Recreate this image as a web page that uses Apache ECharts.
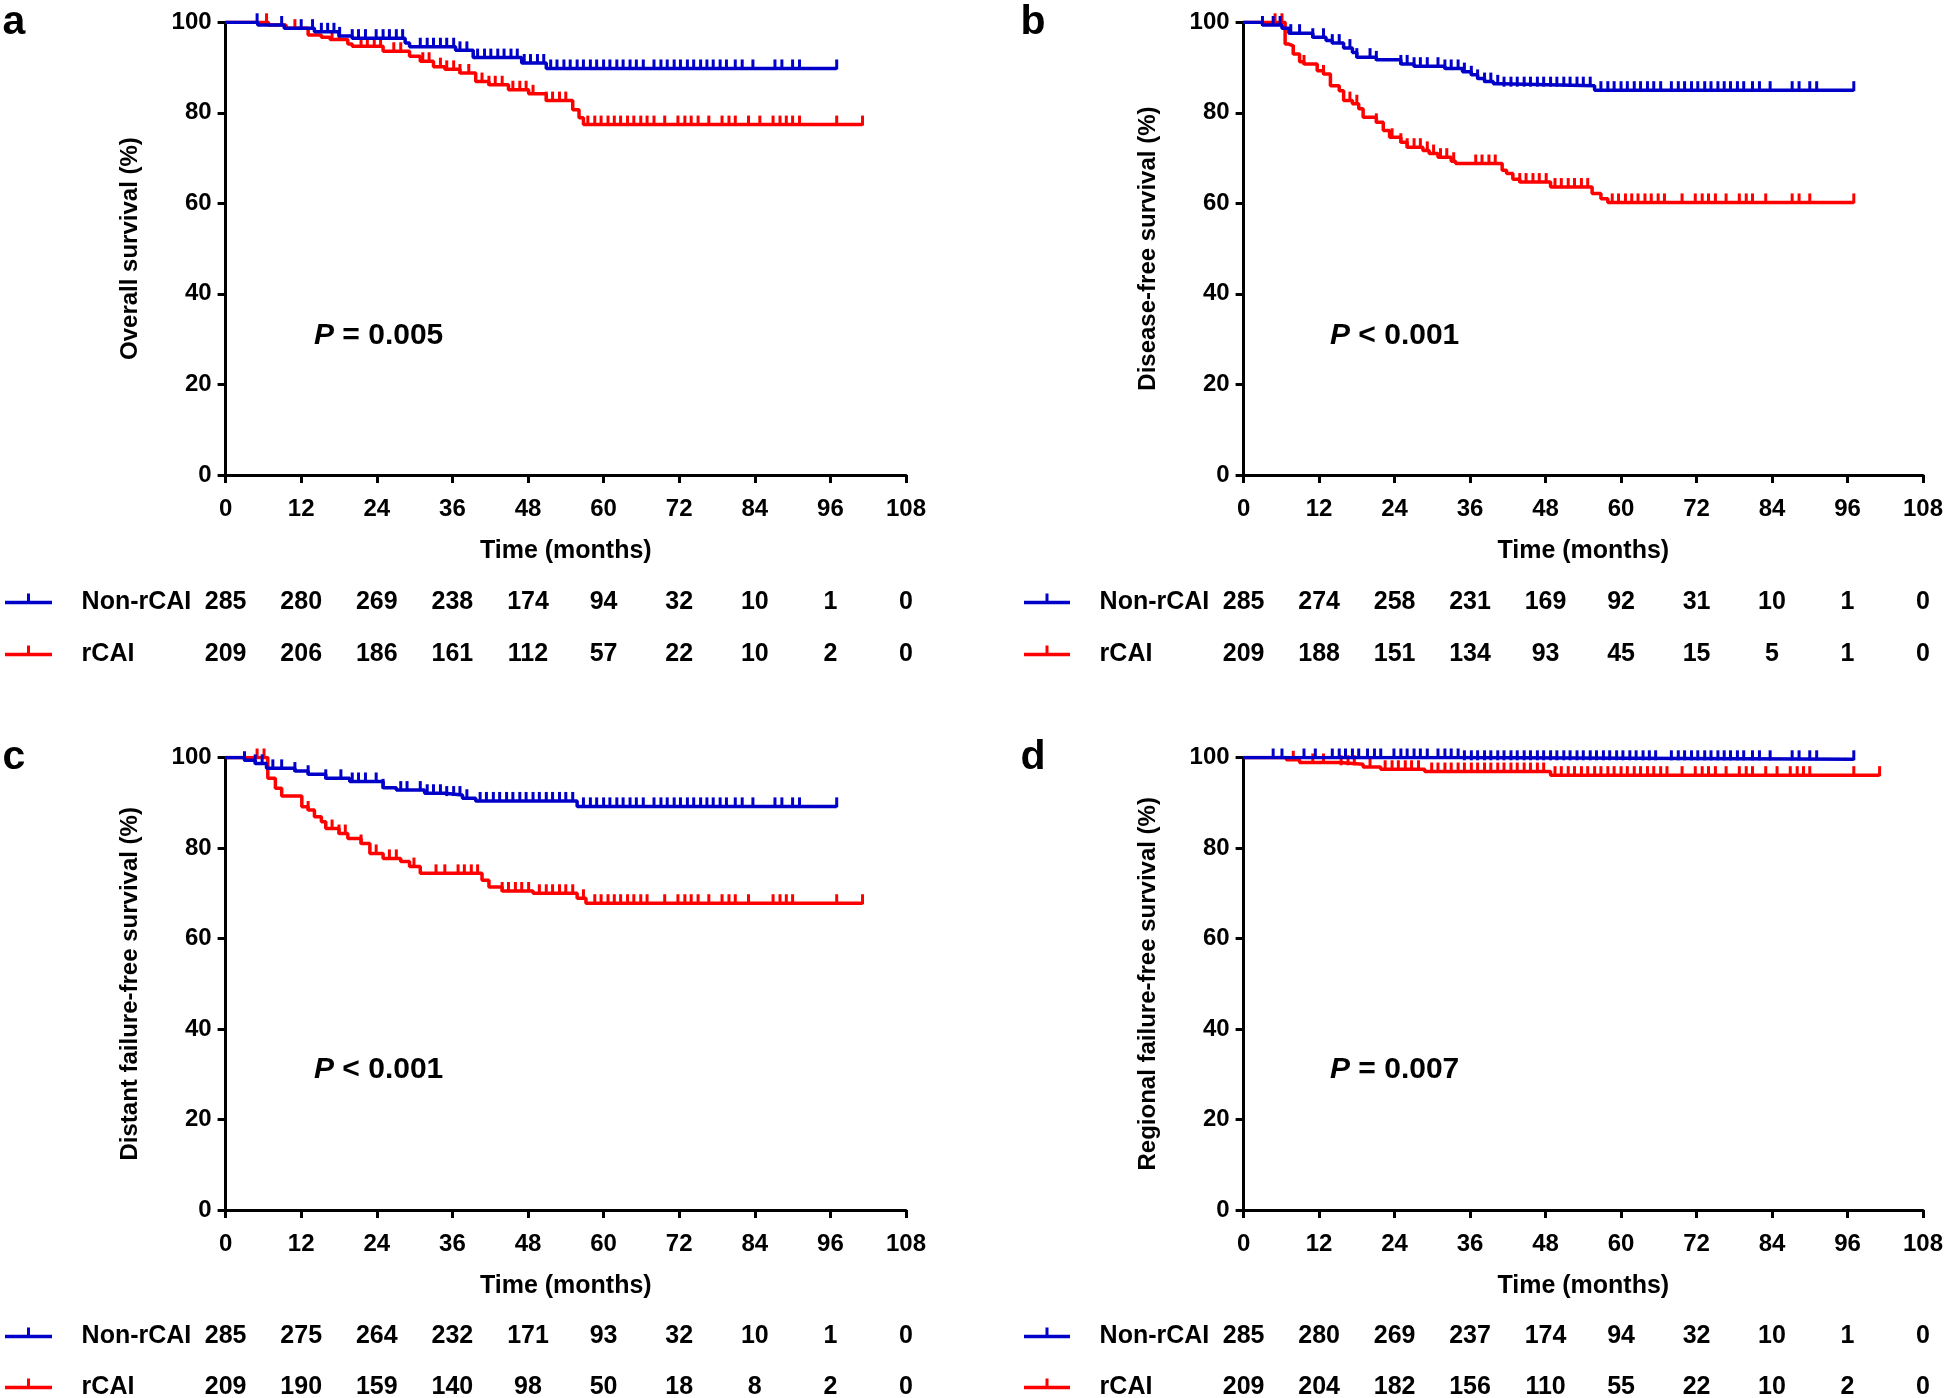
<!DOCTYPE html>
<html><head><meta charset="utf-8">
<script src="https://cdn.jsdelivr.net/npm/echarts@6/dist/echarts.min.js"></script>
<style>html,body{margin:0;padding:0;background:#fff}#c{width:1944px;height:1398px}</style>
</head><body><div id="c"></div>
<script>
// ---------------- DATA ----------------
const timeTicks = [0, 12, 24, 36, 48, 60, 72, 84, 96, 108];
const groups = ['Non-rCAI', 'rCAI'];
const panelLetters = ['a', 'b', 'c', 'd'];
const yTitles = ['Overall survival (%)', 'Disease-free survival (%)', 'Distant failure-free survival (%)', 'Regional failure-free survival (%)'];
const pLabels = ['= 0.005', '< 0.001', '< 0.001', '= 0.007'];

// Panel a: overall survival  [time, survival%]
const aBlueSteps = [[0,100],[5.1,99.4],[9.3,98.7],[14.1,97.9],[18,97],[20.1,96.5],[28.5,95.4],[29.2,94.6],[36.5,93.8],[39.3,92.2],[47,91],[50.9,89.8],[97,89.8]];
const aRedSteps = [[0,100],[6.8,99.4],[9.6,98.7],[13.1,97.2],[15.2,96.7],[16.6,96.2],[19.4,95.2],[20.1,94.7],[25,93.6],[29.2,92.5],[30.9,91.4],[33,90.2],[34.8,89.6],[37.2,88.8],[39.7,86.9],[41.8,86.2],[44.9,85.1],[48.1,84.2],[50.9,82.7],[55.1,80.7],[56.1,78.9],[56.8,77.4],[101.1,77.4]];
const aBlueCensor = [5.0,8.9,12,13.8,15.2,16.2,17.2,18.1,20.1,21.1,22.2,23.9,25,26,27.1,28.1,30.9,32,33,34.1,35.1,36.2,37.2,38.3,40,41.1,42.1,43.2,44.2,45.3,46.3,47.4,48.4,49.5,50.5,51.6,52.6,53.7,54.7,55.8,56.8,57.9,58.9,60,61,62.1,63.1,64.2,65.2,66.3,68,69.1,70.1,71.2,72.2,73.3,74.3,75.4,76.4,77.4,78.5,79.5,80.9,82,83.7,87.2,88.3,90,91.1,97];
const aRedCensor = [6.5,11,16.9,18,21.5,22.5,23.6,24.6,26.7,27.8,31.3,32.3,34.1,35.1,36.2,37.2,38.6,40.7,41.8,42.8,43.9,45.6,46.7,47.7,48.8,50.9,51.9,53,54,57.5,58.6,59.6,60.7,61.7,62.7,63.8,64.8,65.9,66.9,68,69.7,71.8,72.9,73.9,75,76.7,78.8,79.9,80.9,83,84.8,86.9,88,89,90,91.1,97,101.1];

// Panel b: disease-free survival
const bBlueSteps = [[0,100],[3,99.4],[6.1,98.7],[7.2,97.6],[11,96.7],[13.1,96],[14.1,95.4],[15.9,94.3],[17.3,93.3],[18,92.3],[21.1,91.7],[25,90.8],[27.1,90.3],[32,89.8],[34.8,89.1],[36.2,88.4],[37.2,87.6],[38.3,86.9],[39.7,86.4],[41.1,86],[55.8,85],[97,85]];
const bRedSteps = [[0,100],[6.6,95.2],[7.2,94.8],[7.9,93],[8.9,91.3],[9.6,90.8],[11.7,89.3],[12.7,88.6],[13.8,86],[15.2,84.9],[15.9,82.7],[17.3,82],[18.3,80.9],[19,79],[21.1,77.9],[22.2,76.1],[23.2,74.6],[25,73.5],[26,72.4],[28.5,71.7],[29.5,71],[30.9,70.2],[33,69.3],[33.7,68.8],[41.1,67.3],[41.8,66.6],[42.8,65.3],[43.9,64.7],[48.8,63.6],[55.4,62.2],[56.8,61],[57.9,60.2],[97,60.2]];
const bBlueCensor = [3,4.7,5.8,7.5,8.9,11,12.7,14.1,15.2,16.9,18,20.1,21.1,25,26,27.1,28.1,29.2,30.9,32,33,34.1,35.1,36.2,37.2,38.3,39.3,40.4,41.4,42.5,43.5,44.6,45.6,46.7,47.7,48.8,49.8,50.9,51.9,53,54,55.1,56.8,57.9,58.9,60,61,62.1,63.1,64.2,65.2,66.3,68,69.1,70.1,71.2,72.2,73.3,74.3,75.4,76.4,77.4,78.5,79.5,80.9,82,83.7,87.2,88.3,90,91.1,97];
const bRedCensor = [5,6.1,7.9,9.6,12.7,16.9,18,21.1,23.6,25,26,27.1,28.1,29.2,30.2,31.3,32.3,33.4,36.9,37.9,39,40,43.9,44.9,46,47,48.1,49.5,50.5,51.6,52.6,53.7,54.7,58.6,59.6,60.7,61.7,62.7,63.8,64.8,65.9,66.9,69.7,71.8,72.9,73.9,75,76.7,78.8,79.9,80.9,83,87.2,88.3,90,97];

// Panel c: distant failure-free survival
const cBlueSteps = [[0,100],[3,99.4],[4.7,98.7],[6.5,97.6],[11,97],[13.1,96.3],[15.9,95.4],[19.7,94.7],[25,93.3],[27.1,92.8],[31.6,92.1],[34.8,91.7],[37.6,91],[39.7,90.4],[55.8,89.2],[97,89.2]];
const cRedSteps = [[0,100],[6.7,95.4],[7.9,93.2],[8.9,91.5],[12.1,89.1],[13.1,88.4],[14.1,86.9],[15.2,85.8],[15.9,84.3],[18,83.2],[19.4,82.1],[21.5,81],[22.9,78.8],[25,77.7],[27.8,77],[29.2,75.9],[30.9,74.4],[40.7,72.9],[41.8,71.4],[43.9,70.5],[48.8,70],[55.8,68.9],[57.2,67.8],[101.1,67.8]];
const cBlueCensor = [3,4.7,5.8,7.5,8.9,11,13.1,15.9,18.3,20.1,21.1,22.2,23.9,25,27.8,28.8,30.9,32,33,34.1,35.1,36.2,37.2,38.3,40.4,41.4,42.5,43.5,44.6,45.6,46.7,47.7,48.8,49.8,50.9,51.9,53,54,55.1,56.8,57.9,58.9,60,61,62.1,63.1,64.2,65.2,66.3,68,69.1,70.1,71.2,72.2,73.3,74.3,75.4,76.4,77.4,78.5,79.5,80.9,82,83.7,87.2,88.3,90,91.1,97];
const cRedCensor = [5,6.1,13.1,16.9,18,19,21.5,23.9,26,27.1,29.9,33.4,34.8,36.9,37.9,39,40,43.9,44.9,46,47,48.1,49.8,50.9,51.9,53,54,55.1,56.8,58.6,59.6,60.7,61.7,62.7,63.8,64.8,65.9,66.9,69.7,71.8,72.9,73.9,75,76.7,78.8,79.9,80.9,83,86.9,88,89,90,97,101.1];

// Panel d: regional failure-free survival
const dBlueSteps = [[0,100],[34.8,99.6],[97,99.6]];
const dRedSteps = [[0,100],[6.8,99.5],[8.9,98.9],[15.2,98.5],[19,97.9],[21.8,97.4],[28.8,96.9],[48.8,96.1],[101.1,96.1]];
const dBlueCensor = [4.7,6.1,9.6,11.4,14.1,15.2,16.2,17.3,18.3,19.7,20.8,21.8,23.9,25,26,27.1,28.1,29.2,30.9,32,33,34.1,35.1,36.2,37.2,38.3,39.3,40.4,41.4,42.5,43.5,44.6,45.6,46.7,47.7,48.8,49.8,50.9,51.9,53,54,55.1,56.1,57.2,58.2,59.3,60.3,61.4,62.4,63.5,64.5,65.5,68,69.1,70.1,71.2,72.2,73.3,74.3,75.4,76.4,77.4,78.5,79.5,80.9,82,83.7,87.2,88.3,90,91.1,97];
const dRedCensor = [7.9,11,12.7,15.5,16.6,17.6,20.1,22.5,23.6,24.6,25.7,26.7,27.8,29.9,30.9,32,33,34.1,35.1,36.2,37.2,38.3,39.3,40.4,41.4,42.5,43.5,44.6,45.6,46.7,47.7,49.5,50.5,51.6,52.6,53.7,54.7,55.8,56.8,57.9,58.9,60,61,62.1,63.1,64.2,65.2,66.3,67.3,69.7,71.8,72.9,73.9,75,76.7,78.8,79.9,80.9,83,84.8,86.9,88,89,90,97,101.1];

// Numbers at risk
const aRiskNon = [285,280,269,238,174,94,32,10,1,0];
const aRiskR   = [209,206,186,161,112,57,22,10,2,0];
const bRiskNon = [285,274,258,231,169,92,31,10,1,0];
const bRiskR   = [209,188,151,134,93,45,15,5,1,0];
const cRiskNon = [285,275,264,232,171,93,32,10,1,0];
const cRiskR   = [209,190,159,140,98,50,18,8,2,0];
const dRiskNon = [285,280,269,237,174,94,32,10,1,0];
const dRiskR   = [209,204,182,156,110,55,22,10,2,0];

// ---------------- LAYOUT / STYLE ----------------
const FONT = '"Liberation Sans", Arial, Helvetica, sans-serif';
const BLUE = '#0000C8';
const RED = '#FF0000';
const layouts = [
  {left:225.6, top:22.3, width:680.4, tTop:576.5, tH:104, letterX:14, pX:314, pY:336, symX0:5, symX1:52},
  {left:1243.6, top:22.3, width:679.4, tTop:576.5, tH:104, letterX:1033, pX:1330, pY:336, symX0:1024, symX1:1070},
  {left:225.6, top:757.5, width:680.4, tTop:1311, tH:102, letterX:14, pX:314, pY:1070, symX0:5, symX1:52},
  {left:1243.6, top:757.5, width:679.4, tTop:1311, tH:102, letterX:1033, pX:1330, pY:1070, symX0:1024, symX1:1070}
];
const PLOT_H = 452.6;
const panelData = [
  {blue:aBlueSteps, red:aRedSteps, bc:aBlueCensor, rc:aRedCensor, rn:aRiskNon, rr:aRiskR},
  {blue:bBlueSteps, red:bRedSteps, bc:bBlueCensor, rc:bRedCensor, rn:bRiskNon, rr:bRiskR},
  {blue:cBlueSteps, red:cRedSteps, bc:cBlueCensor, rc:cRedCensor, rn:cRiskNon, rr:cRiskR},
  {blue:dBlueSteps, red:dRedSteps, bc:dBlueCensor, rc:dRedCensor, rn:dRiskNon, rr:dRiskR}
];

function levelAt(steps, t) {
  let v = steps[0][1];
  for (const s of steps) { if (s[0] <= t) v = s[1]; else break; }
  return v;
}
function tickRenderer(color) {
  return function (params, api) {
    const p = api.coord([api.value(0), api.value(1)]);
    return {type:'line', shape:{x1:p[0], y1:p[1] + 1, x2:p[0], y2:p[1] - 9},
            style:{stroke:color, lineWidth:3}};
  };
}
function riskRenderer(params, api) {
  const p = api.coord([api.value(0), api.value(1)]);
  return {type:'text', x:p[0], y:p[1],
          style:{text:String(api.value(2)), align:'center', verticalAlign:'middle',
                 fontSize:25, fontWeight:'bold', fontFamily:FONT, fill:'#000'}};
}

const grid = [], xAxis = [], yAxis = [], series = [], graphic = [];
layouts.forEach((L, i) => {
  const D = panelData[i];
  // plot grid
  grid.push({left:L.left, top:L.top, width:L.width, height:PLOT_H, containLabel:false, outerBoundsMode:'none'});
  xAxis.push({gridIndex:i*2, type:'value', min:timeTicks[0], max:timeTicks[timeTicks.length-1], interval:12,
    axisLine:{show:true, onZero:false, lineStyle:{color:'#000', width:3}},
    axisTick:{show:true, length:8, lineStyle:{color:'#000', width:3}},
    axisLabel:{color:'#000', fontSize:24, fontWeight:'bold', fontFamily:FONT, margin:22},
    splitLine:{show:false},
    name:'Time (months)', nameLocation:'middle', nameGap:64,
    nameTextStyle:{color:'#000', fontSize:25, fontWeight:'bold', fontFamily:FONT}});
  yAxis.push({gridIndex:i*2, type:'value', min:0, max:100, interval:20,
    axisLine:{show:true, onZero:false, lineStyle:{color:'#000', width:3}},
    axisTick:{show:true, length:8, lineStyle:{color:'#000', width:3}},
    axisLabel:{color:'#000', fontSize:24, fontWeight:'bold', fontFamily:FONT, margin:14},
    splitLine:{show:false},
    name:yTitles[i], nameLocation:'middle', nameGap:83,
    nameTextStyle:{color:'#000', fontSize:24, fontWeight:'bold', fontFamily:FONT}});
  // table grid
  grid.push({left:L.left, top:L.tTop, width:L.width, height:L.tH, containLabel:false, outerBoundsMode:'none'});
  xAxis.push({gridIndex:i*2+1, type:'value', min:0, max:108, show:false});
  yAxis.push({gridIndex:i*2+1, type:'category', data:groups, inverse:true,
    axisLine:{show:false}, axisTick:{show:false}, splitLine:{show:false},
    axisLabel:{show:true, align:'left', margin:144, color:'#000', fontSize:25, fontWeight:'bold', fontFamily:FONT}});

  const ax = i*2;
  series.push({type:'line', xAxisIndex:ax, yAxisIndex:ax, step:'end', data:D.red, symbol:'none', showSymbol:false,
    lineStyle:{color:RED, width:3.5}, z:2, silent:true});
  series.push({type:'custom', xAxisIndex:ax, yAxisIndex:ax, renderItem:tickRenderer(RED),
    data:D.rc.map(t => [t, levelAt(D.red, t)]), z:2, silent:true});
  series.push({type:'line', xAxisIndex:ax, yAxisIndex:ax, step:'end', data:D.blue, symbol:'none', showSymbol:false,
    lineStyle:{color:BLUE, width:3.5}, z:3, silent:true});
  series.push({type:'custom', xAxisIndex:ax, yAxisIndex:ax, renderItem:tickRenderer(BLUE),
    data:D.bc.map(t => [t, levelAt(D.blue, t)]), z:3, silent:true});
  // risk table
  const rows = [];
  timeTicks.forEach((t, k) => { rows.push([t, 0, D.rn[k]]); rows.push([t, 1, D.rr[k]]); });
  series.push({type:'custom', xAxisIndex:ax+1, yAxisIndex:ax+1, renderItem:riskRenderer,
    encode:{x:0, y:1}, data:rows, silent:true});

  // panel letter
  graphic.push({type:'text', x:L.letterX, y:L.top, style:{text:panelLetters[i], align:'center', verticalAlign:'middle',
    fontSize:41, fontWeight:'bold', fontFamily:FONT, fill:'#000'}});
  // P value
  graphic.push({type:'text', x:L.pX, y:L.pY, style:{text:'{i|P} ' + pLabels[i], verticalAlign:'middle',
    fontSize:30, fontWeight:'bold', fontFamily:FONT, fill:'#000',
    rich:{i:{fontStyle:'italic', fontWeight:'bold', fontSize:30, fontFamily:FONT, fill:'#000'}}}});
  // legend symbols for table rows
  const bandH = L.tH / 2;
  [BLUE, RED].forEach((col, r) => {
    const yy = L.tTop + bandH * (r + 0.5);
    const xm = (L.symX0 + L.symX1) / 2;
    graphic.push({type:'line', shape:{x1:L.symX0, y1:yy, x2:L.symX1, y2:yy}, style:{stroke:col, lineWidth:3.5}});
    graphic.push({type:'line', shape:{x1:xm, y1:yy, x2:xm, y2:yy-9}, style:{stroke:col, lineWidth:3}});
  });
});

const chart = echarts.init(document.getElementById('c'), null, {renderer:'canvas'});
chart.setOption({backgroundColor:'#fff', animation:false, grid, xAxis, yAxis, series, graphic});
</script></body></html>
